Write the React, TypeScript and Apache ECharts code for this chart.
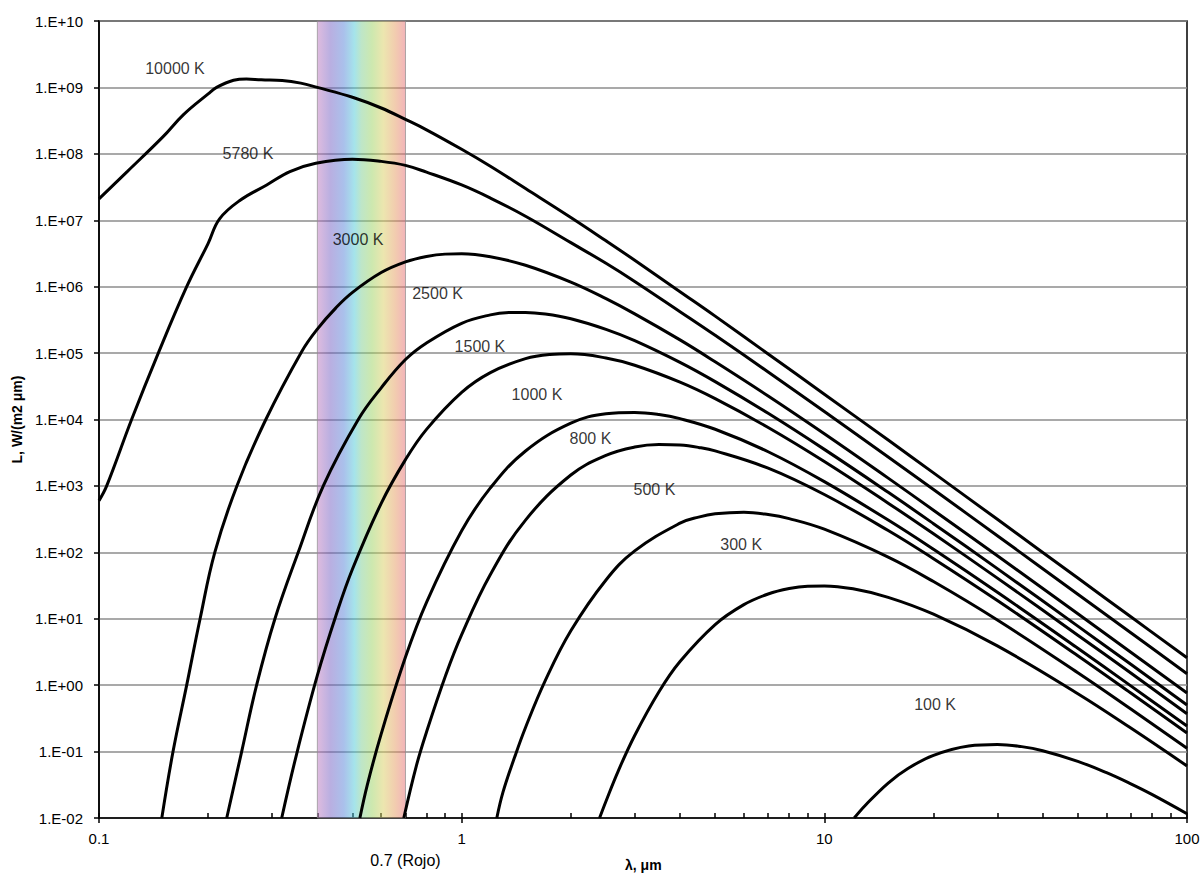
import React, { useEffect, useRef } from 'react';
import * as echarts from 'echarts';

// Spectral exitance curves: [wavelength (µm), L (W/(m2 µm))]
const T10000: [number, number][] = [
  [0.1, 2.1e7], [0.12, 5.5e7], [0.15, 1.8e8], [0.171, 3.9e8], [0.2, 8.0e8], [0.211, 1.0e9],
  [0.235, 1.28e9], [0.255, 1.34e9], [0.28, 1.3e9], [0.32, 1.27e9], [0.36, 1.16e9], [0.4, 1.0e9],
  [0.5, 7.1e8], [0.6, 4.9e8], [0.7, 3.3e8], [0.8, 2.3e8], [1, 1.17e8], [1.2, 6.5e7], [1.5, 3.0e7],
  [2, 1.1e7], [2.5, 4.9e6], [3, 2.5e6], [4, 8.4e5], [5, 3.6e5], [7, 9.7e4], [10, 2.4e4],
  [15, 4.9e3], [20, 1.57e3], [30, 314], [50, 41], [70, 10.7], [100, 2.58],
];
const T5780: [number, number][] = [
  [0.1, 600], [0.105, 1000], [0.123, 1e4], [0.1457, 1e5], [0.1745, 1e6], [0.2, 4.5e6],
  [0.215, 1.05e7], [0.245, 2.0e7], [0.29, 3.4e7], [0.336, 5.4e7], [0.396, 7.2e7], [0.5, 8.3e7],
  [0.6, 7.7e7], [0.7, 6.7e7], [0.8, 5.3e7], [1, 3.4e7], [1.2, 2.16e7], [1.5, 1.15e7], [2, 4.6e6],
  [2.5, 2.25e6], [3, 1.2e6], [4, 4.2e5], [5, 1.85e5], [7, 5.2e4], [10, 1.32e4], [15, 2.73e3],
  [20, 882], [30, 178], [50, 23.4], [70, 6.15], [100, 1.49],
];
const T3000: [number, number][] = [
  [0.149, 0.01], [0.16, 0.1], [0.1745, 1], [0.19, 10], [0.2086, 100], [0.24, 1000], [0.2884, 1e4],
  [0.362, 1.05e5], [0.4, 2.3e5], [0.45, 4.8e5], [0.5, 8.2e5], [0.6, 1.63e6], [0.7, 2.36e6],
  [0.8, 2.85e6], [0.9, 3.09e6], [1, 3.12e6], [1.2, 2.82e6], [1.5, 2.1e6], [2, 1.17e6], [2.5, 6.6e5],
  [3, 3.9e5], [4, 1.58e5], [5, 7.4e4], [7, 2.26e4], [10, 6.1e3], [15, 1.31e3], [20, 431],
  [30, 88.8], [50, 11.9], [70, 3.14], [100, 0.761],
];
const T2500: [number, number][] = [
  [0.225, 0.01], [0.2474, 0.1], [0.272, 1], [0.3056, 10], [0.3543, 100], [0.4154, 1000],
  [0.5187, 1e4], [0.6, 3.0e4], [0.7, 8.0e4], [0.8, 1.42e5], [1, 2.81e5], [1.2, 3.76e5],
  [1.35, 4.07e5], [1.5, 4.1e5], [1.7, 3.88e5], [2, 3.29e5], [2.5, 2.28e5], [3, 1.54e5],
  [4, 7.25e4], [5, 3.72e4], [7, 1.24e4], [10, 3.55e3], [15, 801], [20, 270], [30, 56.8],
  [50, 7.74], [70, 2.06], [100, 0.502],
];
const T1500: [number, number][] = [
  [0.319, 0.01], [0.35, 0.088], [0.4, 1.4], [0.45, 11.1], [0.5, 56], [0.6, 547], [0.7, 2.49e3],
  [0.8, 7.1e3], [1, 2.56e4], [1.2, 5.08e4], [1.5, 8.24e4], [1.75, 9.5e4], [2, 9.74e4],
  [2.5, 8.44e4], [3, 6.56e4], [4, 3.65e4], [5, 2.06e4], [7, 7.58e3], [10, 2.33e3], [15, 550],
  [20, 190], [30, 40.9], [50, 5.66], [70, 1.52], [100, 0.372],
];
const T1000: [number, number][] = [
  [0.524, 0.01], [0.55, 0.0324], [0.6, 0.185], [0.7, 2.65], [0.8, 17.7], [1, 211], [1.2, 934],
  [1.5, 3.36e3], [2, 8.79e3], [2.5, 1.22e4], [3, 1.28e4], [3.5, 1.19e4], [4, 1.03e4], [5, 7.13e3],
  [7, 3.27e3], [10, 1.16e3], [15, 306], [20, 111], [30, 25], [50, 3.59], [70, 0.975], [100, 0.242],
];
const T800: [number, number][] = [
  [0.6925, 0.01], [0.75, 0.061], [0.8, 0.197], [0.9, 1.33], [1, 5.78], [1.2, 46.5], [1.5, 306],
  [2, 1.46e3], [2.5, 2.88e3], [3, 3.85e3], [3.5, 4.2e3], [4, 4.12e3], [4.5, 3.8e3], [5, 3.37e3],
  [7, 1.85e3], [10, 742], [15, 213], [20, 80.2], [30, 18.8], [50, 2.77], [70, 0.76], [100, 0.19],
];
const T500: [number, number][] = [
  [1.25, 0.01], [1.3, 0.0245], [1.4, 0.0827], [1.5, 0.231], [1.7, 1.17], [2, 6.59], [2.5, 38.4],
  [3, 105], [4, 275], [4.5, 339], [5, 380], [6, 401], [7, 371], [8, 322], [10, 223], [15, 84.8],
  [20, 36.3], [30, 9.57], [50, 1.54], [70, 0.438], [100, 0.112],
];
const T300: [number, number][] = [
  [2.4, 0.01], [2.5, 0.0179], [2.7, 0.0505], [3, 0.175], [3.5, 0.797], [4, 2.27], [5, 8.17],
  [6, 16.3], [7, 23.6], [8, 28.5], [9, 30.9], [10, 31.2], [12, 28.2], [15, 21], [20, 11.7],
  [30, 3.9], [50, 0.744], [70, 0.226], [100, 0.0608],
];
const T100: [number, number][] = [
  [12.09, 0.01], [13, 0.0157], [15, 0.0336], [17, 0.0556], [20, 0.0879], [25, 0.1217],
  [30, 0.1283], [35, 0.1187], [40, 0.1029], [50, 0.0713], [60, 0.0481], [70, 0.0327],
  [80, 0.0227], [100, 0.0116],
];

const curves = [T10000, T5780, T3000, T2500, T1500, T1000, T800, T500, T300, T100];
const curveNames = ['10000 K', '5780 K', '3000 K', '2500 K', '1500 K', '1000 K', '800 K', '500 K', '300 K', '100 K'];
// label anchor points (data coordinates)
const labelLambda = [0.162, 0.2575, 0.518, 0.858, 1.123, 1.613, 2.265, 3.4, 5.9, 20.2];
const labelL = [1.93e9, 1.0e8, 5.1e6, 7.8e5, 1.27e5, 2.42e4, 5.19e3, 873, 131, 0.518];

const xTickValues = [0.1, 1, 10, 100];
const xInnerTicks = [
  0.1, 0.2, 0.3, 0.4, 0.5, 0.6, 0.7, 0.8, 0.9,
  1, 2, 3, 4, 5, 6, 7, 8, 9,
  10, 20, 30, 40, 50, 60, 70, 80, 90, 100,
];
const yTickValues = [1e-2, 1e-1, 1, 10, 1e2, 1e3, 1e4, 1e5, 1e6, 1e7, 1e8, 1e9, 1e10];
const visibleBand = [0.4, 0.7];
const redLabelValue = [0.7];

const FONT = '"Liberation Sans", Arial, Helvetica, sans-serif';

function yFmt(v: number): string {
  const e = Math.round(Math.log10(v));
  const a = Math.abs(e);
  return '1.E' + (e < 0 ? '-' : '+') + (a < 10 ? '0' + a : String(a));
}
function xFmt(v: number): string {
  return v < 1 ? v.toFixed(1) : String(Math.round(v));
}

export default function App() {
  const ref = useRef<HTMLDivElement>(null);
  useEffect(() => {
    if (!ref.current) return;
    const chart = echarts.init(ref.current, undefined, { renderer: 'svg' });

    const lineSeries = curves.map((c, i) => ({
      name: curveNames[i],
      type: 'line',
      data: c,
      xAxisIndex: 0,
      yAxisIndex: 0,
      smooth: 0.4,
      symbol: 'none',
      showSymbol: false,
      clip: true,
      silent: true,
      z: 4,
      lineStyle: { color: '#000', width: 3 },
    }));

    const option: any = {
      animation: false,
      backgroundColor: '#fff',
      grid: {
        left: 99, right: 16, top: 21, bottom: 58,
        show: true, borderColor: '#000', borderWidth: 1.5,
        outerBoundsMode: 'none',
      },
      xAxis: [
        {
          type: 'log', logBase: 10, min: 0.1, max: 100, position: 'bottom',
          axisLine: { show: true, onZero: false, lineStyle: { color: '#000', width: 1.5 } },
          axisTick: { show: true, inside: false, length: 5, customValues: xTickValues, lineStyle: { color: '#000', width: 1.5 } },
          axisLabel: { show: true, customValues: xTickValues, formatter: xFmt, color: '#000', fontSize: 15, fontFamily: FONT, margin: 13 },
          splitLine: { show: false },
        },
        {
          type: 'log', logBase: 10, min: 0.1, max: 100, position: 'bottom',
          axisLine: { show: false, onZero: false },
          axisTick: { show: true, inside: true, length: 5, customValues: xInnerTicks, lineStyle: { color: '#000', width: 1.5 } },
          axisLabel: { show: false },
          splitLine: { show: false },
        },
        {
          type: 'log', logBase: 10, min: 0.1, max: 100, position: 'bottom',
          axisLine: { show: false, onZero: false },
          axisTick: { show: false },
          axisLabel: {
            show: true, customValues: redLabelValue, formatter: (v: number) => v.toFixed(1) + ' (Rojo)',
            color: '#000', fontSize: 16, fontFamily: FONT, margin: 34,
          },
          splitLine: { show: false },
        },
      ],
      yAxis: {
        type: 'log', logBase: 10, min: 0.01, max: 1e10,
        axisLine: { show: true, onZero: false, lineStyle: { color: '#000', width: 1.5 } },
        axisTick: { show: true, inside: false, length: 5, customValues: yTickValues, lineStyle: { color: '#000', width: 1.5 } },
        axisLabel: { customValues: yTickValues, formatter: yFmt, color: '#000', fontSize: 15, fontFamily: FONT, margin: 16 },
        splitLine: { show: true, lineStyle: { color: '#8c8c8c', width: 1.5 } },
        name: 'L, W/(m2 μm)', nameLocation: 'middle', nameGap: 72, nameRotate: 90,
        nameTextStyle: { color: '#000', fontSize: 14, fontWeight: 'bold', fontFamily: FONT },
      },
      graphic: [
        {
          type: 'text', left: 625, top: 858, z: 10,
          style: { text: 'λ, μm', fill: '#000', font: 'bold 14px ' + FONT },
        },
      ],
      series: [
        {
          type: 'line', data: [], xAxisIndex: 0, yAxisIndex: 0, silent: true, z: 1,
          markArea: {
            silent: true,
            itemStyle: {
              color: {
                type: 'linear', x: 0, y: 0, x2: 1, y2: 0,
                colorStops: [
                  { offset: 0.0, color: 'rgba(190,120,190,0.5)' },
                  { offset: 0.15, color: 'rgba(115,95,195,0.5)' },
                  { offset: 0.3, color: 'rgba(85,130,215,0.5)' },
                  { offset: 0.42, color: 'rgba(75,200,215,0.5)' },
                  { offset: 0.5, color: 'rgba(125,205,145,0.5)' },
                  { offset: 0.62, color: 'rgba(155,209,95,0.5)' },
                  { offset: 0.75, color: 'rgba(217,205,95,0.5)' },
                  { offset: 0.88, color: 'rgba(229,155,95,0.5)' },
                  { offset: 1.0, color: 'rgba(229,105,115,0.5)' },
                ],
              },
              borderColor: 'rgba(140,140,140,0.7)', borderWidth: 1,
            },
            data: [[{ xAxis: visibleBand[0] }, { xAxis: visibleBand[1] }]],
          },
        },
        ...lineSeries,
        {
          type: 'scatter', xAxisIndex: 0, yAxisIndex: 0, silent: true, z: 6,
          symbolSize: 1, itemStyle: { color: 'rgba(0,0,0,0)' },
          data: labelLambda.map((x, i) => ({ value: [x, labelL[i]], name: curveNames[i] })),
          label: {
            show: true, position: 'inside', formatter: (p: any) => p.name,
            color: '#000', fontSize: 16, fontFamily: FONT,
          },
        },
      ],
    };
    chart.setOption(option);
    return () => chart.dispose();
  }, []);
  return <div ref={ref} style={{ position: 'absolute', left: 0, top: 0, width: 1203, height: 876 }} />;
}
